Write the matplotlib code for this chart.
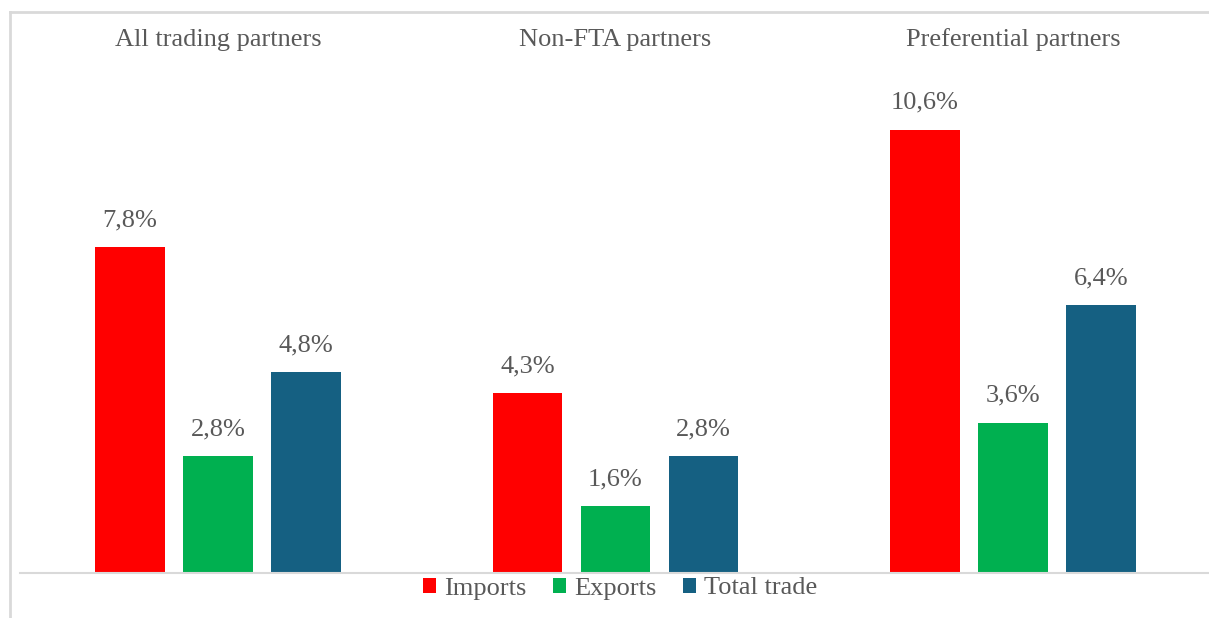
import matplotlib
matplotlib.use("Agg")
import matplotlib.pyplot as plt
import numpy as np
from matplotlib.transforms import blended_transform_factory
from matplotlib.lines import Line2D

groups = ["All trading partners", "Non-FTA partners", "Preferential partners"]
series = ["Imports", "Exports", "Total trade"]
imports = [7.8, 4.3, 10.6]
exports = [2.8, 1.6, 3.6]
total_trade = [4.8, 2.8, 6.4]
colors = ["#FF0000", "#00B050", "#156082"]

plt.rcParams['font.family'] = ['Liberation Serif', 'DejaVu Serif']
W, H = 1209, 618
fig = plt.figure(figsize=(W / 100, H / 100), dpi=100)

ax_left, ax_right = 20, 1209
ax_bottom, ax_top = 573, 20
ax = fig.add_axes([ax_left / W, 1 - ax_bottom / H, (ax_right - ax_left) / W, (ax_bottom - ax_top) / H])

x = np.arange(len(groups))
width = 0.175
step = 0.2214
text_color = "#595959"
for k, (name, vals) in enumerate(zip(series, [imports, exports, total_trade])):
    bars = ax.bar(x + (k - 1) * step, vals, width, color=colors[k], label=name)
    for b, v in zip(bars, vals):
        ax.annotate(f"{v:.1f}%".replace(".", ","), (b.get_x() + b.get_width() / 2, v),
                    xytext=(0, 11.5), textcoords="offset points", ha="center", va="bottom",
                    fontsize=19, color=text_color)

ax.set_xlim(-0.498, 2.493)
ax.set_ylim(0, (ax_bottom - ax_top) / 41.8)
for s in ["left", "right", "top"]:
    ax.spines[s].set_visible(False)
ax.spines["bottom"].set_color("#D9D9D9")
ax.spines["bottom"].set_linewidth(1.5)
ax.set_xticks([])
ax.set_yticks([])

trans = blended_transform_factory(ax.transData, fig.transFigure)
for i, g in enumerate(groups):
    ax.text(i, 1 - 40 / H, g, transform=trans, ha="center", va="center",
            fontsize=19, color=text_color)

# frame (partially visible in the reference)
fig.add_artist(Line2D([10 / W, 10 / W], [0, 1 - 12 / H], transform=fig.transFigure,
                      color="#D9D9D9", lw=2))
fig.add_artist(Line2D([10 / W, 1], [1 - 12 / H, 1 - 12 / H], transform=fig.transFigure,
                      color="#D9D9D9", lw=2))

fig.legend(loc="center", bbox_to_anchor=(620 / W, 1 - 588.5 / H), ncol=3, frameon=False,
           fontsize=19, labelcolor=text_color, handlelength=0.5, handleheight=0.5,
           handletextpad=0.3, columnspacing=1.0, borderaxespad=0)

fig.savefig("out.png", dpi=100)
